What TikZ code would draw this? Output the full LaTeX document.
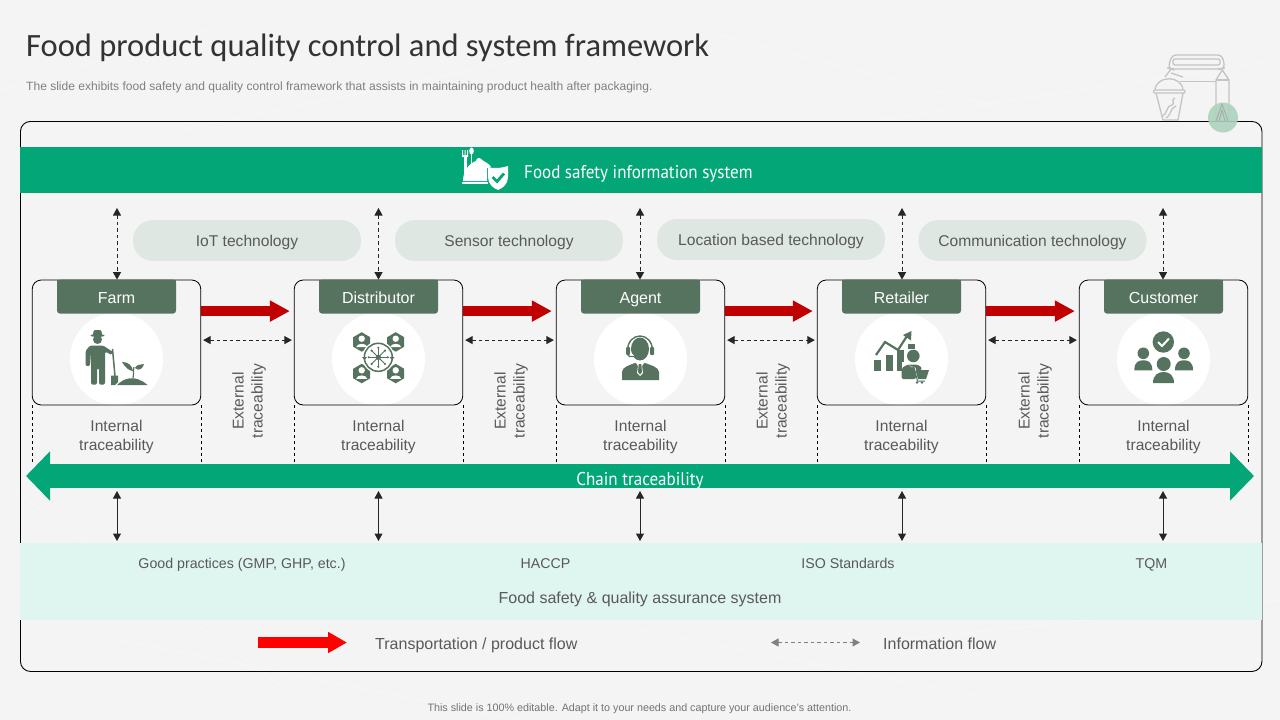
\documentclass[tikz,border=0pt]{standalone}
\usepackage{fontspec}
\usetikzlibrary{arrows.meta,calc}
\setmainfont{Liberation Sans}
\newfontfamily\titlefont{Carlito}
\newfontfamily\barfont[FakeStretch=0.92]{PT Sans}
\definecolor{paper}{HTML}{F4F4F4}
\definecolor{greenbar}{HTML}{03A676}
\definecolor{tabgreen}{HTML}{56735F}
\definecolor{pill}{HTML}{DFE7E3}
\definecolor{mint}{HTML}{DFF5EF}
\definecolor{txt}{HTML}{595959}
\definecolor{darkred}{HTML}{C00000}
\definecolor{linegrey}{HTML}{C4C4C4}
\definecolor{badge}{HTML}{AFD2BE}
\tikzset{
  x=1pt,y=-1pt,
  stagebox/.style={draw=black,line width=.8pt,rounded corners=9pt,minimum width=168.5pt,minimum height=125pt,inner sep=0pt},
  disc/.style={circle,fill=white,minimum size=93pt,inner sep=0pt},
  pillbox/.style={fill=pill,text=txt,rounded corners=20pt,minimum width=228pt,minimum height=41pt,inner sep=0pt,text height=14pt,text depth=3pt,font=\fontsize{15.6}{16}\selectfont},
  lab/.style={text=txt,align=center,inner sep=0pt,font=\fontsize{15.6}{19}\selectfont},
  oneline/.style={text=txt,inner sep=0pt,text height=14pt,text depth=3pt,font=\fontsize{16}{19}\selectfont},
  smlab/.style={text=txt,inner sep=0pt,text height=12pt,text depth=2pt,font=\fontsize{14.2}{16}\selectfont},
  flow/.style={draw=darkred,line width=10.5pt,-{Triangle[length=20pt,width=20pt]}},
  infoh/.style={draw=black!85,line width=1pt,dash pattern=on 3.5pt off 3pt,{Triangle[length=7.5pt,width=8pt]}-{Triangle[length=7.5pt,width=8pt]}},
  solidv/.style={draw=black!85,line width=1pt,{Triangle[length=7.5pt,width=8pt]}-{Triangle[length=7.5pt,width=8pt]}},
  guide/.style={draw=black,line width=.7pt,dash pattern=on 3pt off 3pt},
  icon/.style={fill=tabgreen,draw=none},
  pack/.style={draw=linegrey,line width=1.3pt,fill=none},
}
\begin{document}
\begin{tikzpicture}
\useasboundingbox (0,0) rectangle (1280,720);
\fill[paper] (0,0) rectangle (1280,720);
% faint paper creases
\foreach \a/\b/\c/\d in {0/90/240/20,180/130/520/60,700/30/1010/110,880/120/1280/60,0/480/300/700,120/640/520/720,640/630/1000/700,900/640/1280/600}
  \draw[white,line width=1pt,opacity=.3] (\a,\b) -- (\c,\d);

% heading
\node[anchor=west,inner sep=0pt,text=black!80,text height=22pt,text depth=7pt,font=\titlefont\fontsize{32.5}{34}\selectfont] (title) at (26,49) {Food product quality control and system framework};
\node[anchor=west,inner sep=0pt,text=black!50,text height=10pt,text depth=3pt,font=\fontsize{12.05}{14}\selectfont] (sub) at (26,87) {The slide exhibits food safety and quality control framework that assists in maintaining product health after packaging.};

% package line art
\draw[pack,rounded corners=4pt] (1168,68) -- (1172,55) -- (1222,55) -- (1225,68) -- (1221,69) -- (1171,69) -- cycle;
\draw[pack,rounded corners=2pt] (1173,59) rectangle (1220,65);
\draw[pack] (1171,69) -- (1165,77);
\draw[pack] (1180,81.5) -- (1216,81.5);
\draw[pack] (1216,80) -- (1222.3,70) -- (1229,80) -- (1229,121) -- (1216,121) -- cycle;
\draw[pack] (1216,80) -- (1229,80);
\draw[pack] (1171,73) -- (1183,77);
\draw[pack] (1155,90) .. controls (1156,75) and (1182,75) .. (1183,90);
\draw[pack,rounded corners=1pt] (1153.5,90) rectangle (1185,93);
\draw[pack] (1156,93) -- (1163,120) -- (1178,120) -- (1183,93);
\draw[pack] (1163,116) .. controls (1168,112) and (1166,106) .. (1172,105) .. controls (1176,103) and (1170,100) .. (1175,98);
\draw[pack] (1166,118) .. controls (1172,114) and (1170,108) .. (1176,106);

% frame
\node[draw=black,line width=.9pt,rounded corners=10pt,minimum width=1241.5pt,minimum height=550pt,inner sep=0pt,anchor=north west] (frame) at (20,121) {};
\fill[badge,opacity=.9] (1223,117.5) circle (15);
\draw[black!35,line width=.8pt] (1216,121) -- (1222,104) -- (1228,121);
\draw[black!35,line width=.8pt] (1219,121) -- (1222,110) -- (1225,121);

% information bar
\node[fill=greenbar,minimum width=1242pt,minimum height=46pt,inner sep=0pt,anchor=north west] (bar) at (20,147) {};
\node[anchor=west,inner sep=0pt,text=white,font=\barfont\fontsize{18.5}{20}\selectfont] (bartext) at (524,174) {Food safety information system};
% cloche icon
\fill[white] (464,156) -- (467,156) -- (467,180) -- (464,180) -- cycle;
\fill[white] (462,150) -- (463,150) -- (463,155) -- (464.5,155) -- (464.5,150) -- (465.5,150) -- (465.5,155) -- (467,155) -- (467,150) -- (468,150) -- (468,157) -- (462,157) -- cycle;
\fill[white] (471.5,151) ellipse (2.3 and 3.5);
\fill[white] (470.7,154) rectangle (472.3,172);
\fill[white] (463,181) .. controls (463,170) and (470,163) .. (476,161) .. controls (476,158) and (480,157) .. (481,159) .. controls (484,162) and (489,163) .. (491,167) -- (487,168) -- (487,181) -- cycle;
\fill[white] (462,182) rectangle (488,184);
\fill[white] (488,167) .. controls (494,169) and (502,168) .. (508,166) -- (508,177) .. controls (508,184) and (503,188) .. (498,190) .. controls (493,188) and (488,184) .. (488,177) -- cycle;
\draw[greenbar,line width=2.8pt] (492.5,177) -- (497,181.5) -- (504,173.5);

% technology pills
\node[pillbox] (iot) at (247,240.5) {IoT technology};
\node[pillbox] (sensor) at (509,240.5) {Sensor technology};
\node[pillbox] (location) at (771,239.5) {Location based technology};
\node[pillbox] (comm) at (1032.5,240.5) {Communication technology};

% stage boxes
\foreach \n/\cx/\t in {farm/116.5/Farm,dist/378.5/Distributor,agent/640.5/Agent,ret/901.5/Retailer,cust/1163.5/Customer}{
  \node[disc] (\n disc) at (\cx,359) {};
  \node[stagebox] (\n) at (\cx,342.5) {};
  \fill[tabgreen,rounded corners=3pt] ($(\n.north)+(-59.5,0)$) rectangle ($(\n.north)+(59.5,34)$);
  \fill[tabgreen] ($(\n.north)+(-59.5,0)$) rectangle ($(\n.north)+(59.5,8)$);
  \node[text=white,inner sep=0pt,anchor=base,font=\fontsize{16}{16}\selectfont] (\n tab) at ($(\n.north)+(0,23.5)$) {\t};
}

% farmer
\fill[icon] (97.5,335.5) ellipse (7 and 1.4);
\fill[icon,rounded corners=1.5pt] (93,336) -- (93.5,330) -- (101.5,330) -- (102,336) -- cycle;
\fill[icon] (97.5,339.5) circle (4.5);
\fill[icon,rounded corners=1.5pt] (90,345.5) -- (103,345.5) -- (113,352) -- (112,355) -- (105,351.5) -- (105,384.5) -- (99,384.5) -- (99,368) -- (97,368) -- (97,384.5) -- (91,384.5) -- (91,352) -- (90,366) -- (85.5,366) -- (85.5,351) -- cycle;
\draw[tabgreen,line width=1.5pt] (112.5,349) -- (115,376);
\fill[icon] (111,375.5) -- (118,375.5) -- (118,382) -- (115,385) -- (111,385) -- cycle;
\fill[icon] (117,385) .. controls (124,378) and (135,374) .. (147.5,385) -- cycle;
\draw[tabgreen,line width=1.2pt] (133,378) .. controls (134,374) and (133,370) .. (134,367);
\fill[icon] (133,371) .. controls (129,371) and (125,367) .. (122,362) .. controls (128,362) and (132,365) .. (133,371) -- cycle;
\fill[icon] (135,368) .. controls (137,364) and (140,365) .. (144,364) .. controls (143,368) and (139,372) .. (135,368) -- cycle;

% distributor network
\foreach \hx/\hy in {361.7/341.7,395.7/341.7,361.7/373.3,395.7/373.3}{
  \fill[icon] (\hx,\hy-9.5) -- ++(8.5,5) -- ++(0,9.5) -- ++(-8.5,5) -- ++(-8.5,-5) -- ++(0,-9.5) -- cycle;
  \fill[white] (\hx,\hy-3) circle (3.2);
  \fill[white] (\hx-5.5,\hy+5.5) .. controls (\hx-5,\hy+1) and (\hx+5,\hy+1) .. (\hx+5.5,\hy+5.5) -- cycle;
}
\fill[white] (378.3,357.3) circle (16);
\draw[tabgreen,line width=1.5pt] (378.3,357.3) circle (14);
\fill[icon] (378.3,357.3) circle (2.7);
\foreach \ang in {0,45,...,315}{
  \draw[tabgreen,line width=.9pt] (378.3,357.3) -- ++(\ang:9.5);
  \fill[icon] (378.3,357.3) ++(\ang:9.5) circle (1.2);
}
\foreach \ax/\ay in {364.5/357,392/357}
  \fill[icon] (\ax-2.5,\ay) -- (\ax+2.5,\ay) -- (\ax,\ay+3) -- cycle;

% agent
\fill[icon] (640,349) ellipse (9 and 11.5);
\fill[icon] (622,380) -- (622,372) .. controls (622,367) and (630,365) .. (635,363) -- (645,363) .. controls (650,365) and (659,367) .. (659,372) -- (659,380) -- cycle;
\fill[white] (635,361.5) -- (645,361.5) -- (642,366) -- (643,373) -- (640,376) -- (637,373) -- (638,366) -- cycle;
\fill[icon] (638.7,364) -- (641.3,364) -- (642,372) -- (640,374.5) -- (638,372) -- cycle;
\draw[tabgreen,line width=1.4pt] (627.5,351) .. controls (627.5,331) and (652.5,331) .. (652.5,351);
\fill[icon,rounded corners=1pt] (626,347) rectangle (630,355);
\fill[icon,rounded corners=1pt] (650,347) rectangle (654,355);
\draw[white,line width=1.6pt] (630.5,353) -- (634,357);
\draw[tabgreen,line width=1.2pt] (628,355) .. controls (629,358) and (634,356) .. (640,355.7);

% retailer
\fill[icon] (874,360) rectangle (880.7,371);
\fill[icon] (886,355) rectangle (892.7,371);
\fill[icon] (897,350) rectangle (904,371);
\draw[tabgreen,line width=2.2pt] (876,355) -- (885,342) -- (898,350) -- (907,336);
\fill[icon] (903,335) -- (911.5,331) -- (911,340.5) -- cycle;
\fill[white] (902,362) rectangle (925,385);
\fill[icon] (907.7,344) rectangle (915,349);
\fill[icon] (913.3,356) circle (6.3);
\fill[icon,rounded corners=2pt] (901.5,379) -- (901.5,372) .. controls (902,366) and (908,364.5) .. (913,364.5) .. controls (917,364.5) and (921,366) .. (922,370) -- (916,370) -- (916,379) -- cycle;
\draw[white,line width=1pt] (909,366) -- (915,368) -- (918,379) -- (927,379);
\fill[icon] (915.5,370) -- (929,370) -- (926,379) -- (918,379) -- cycle;
\draw[tabgreen,line width=1pt] (908.5,366.5) -- (914,367.5) -- (917.5,381) -- (925,381);
\fill[icon] (917,382.5) circle (1.4) (922,382.5) circle (1.4);

% customer
\fill[icon] (1163.3,342) circle (10.7);
\draw[white,line width=2pt] (1158,342) -- (1162,346) -- (1169,338.5);
\foreach \px/\py in {1143.3/353.3,1184/353.3}{
  \fill[icon] (\px,\py) circle (5.8);
  \fill[icon] (\px-9,\py+17) .. controls (\px-9,\py+8) and (\px-4,\py+7) .. (\px,\py+7) .. controls (\px+4,\py+7) and (\px+9,\py+8) .. (\px+9,\py+17) -- cycle;
}
\fill[icon] (1163.7,364) circle (7);
\fill[icon] (1153,383) .. controls (1153,375) and (1158,372) .. (1163.7,372) .. controls (1169,372) and (1174,375) .. (1174,383) -- cycle;

% information arrows up to the bar
\foreach \n/\cx/\k in {farm/117/1,dist/378.5/2,agent/640/3,ret/902/4,cust/1163/5}{
  \coordinate (top\k) at (\cx,208);
  \draw[infoh] (top\k) -- (top\k |- \n.north);
}

% flows between stages
\foreach \a/\b in {farm/dist,dist/agent,agent/ret,ret/cust}{
  \draw[flow,shorten >=4pt] ([yshift=-31.5pt]\a.north east) -- ([yshift=-31.5pt]\b.north west);
  \draw[infoh,shorten <=2pt,shorten >=2pt] ([yshift=-60.5pt]\a.north east) -- ([yshift=-60.5pt]\b.north west);
}

% traceability labels and guides
\foreach \n/\cx/\k in {farm/116.5/1,dist/378.5/2,agent/640.5/3,ret/901.5/4,cust/1163.5/5}{
  \node[lab] (int\k) at (\cx,436.5) {Internal\\traceability};
  \coordinate (gl\k) at (\n.south west |- 0,464);
  \coordinate (gr\k) at (\n.south east |- 0,464);
  \draw[guide] (\n.south west) -- (gl\k);
  \draw[guide] (\n.south east) -- (gr\k);
}
\foreach \cx/\k in {249/1,511/2,773/3,1035/4}
  \node[lab,rotate=90] (ext\k) at (\cx,401) {External\\traceability};

% chain traceability
\coordinate (chainL) at (26,476);
\coordinate (chainR) at (1254,476);
\draw[greenbar,line width=24pt,{Triangle[length=24pt,width=48pt]}-{Triangle[length=24pt,width=48pt]}] (chainL) -- (chainR);
\node[text=white,inner sep=0pt,font=\barfont\fontsize{18.5}{20}\selectfont] (chain) at (640,480.5) {Chain traceability};

% assurance band
\node[fill=mint,minimum width=1242pt,minimum height=77pt,inner sep=0pt,anchor=north west] (band) at (20,543) {};
\foreach \cx/\k in {117/1,378.5/2,640/3,902/4,1163/5}{
  \coordinate (sa\k) at (\cx,491);
  \coordinate (sb\k) at (\cx,541);
  \draw[solidv] (sa\k) -- (sb\k);
}
\node[smlab] (gp) at (242,563) {Good practices (GMP, GHP, etc.)};
\node[smlab] (haccp) at (545.5,563) {HACCP};
\node[smlab] (iso) at (848,563) {ISO Standards};
\node[smlab] (tqm) at (1151.5,563) {TQM};
\node[oneline] (qa) at (640,598) {Food safety \& quality assurance system};

% legend
\coordinate (lr1) at (258,642.5);
\coordinate (lr2) at (347,642.5);
\draw[draw=red,line width=11pt,-{Triangle[length=19pt,width=20pt]}] (lr1) -- (lr2);
\node[oneline,anchor=west] (ltrans) at (375,643.5) {Transportation / product flow};
\coordinate (li1) at (771,642.5);
\coordinate (li2) at (860,642.5);
\draw[draw=black!50,line width=1pt,dash pattern=on 3.5pt off 3pt,{Triangle[length=7.5pt,width=8pt]}-{Triangle[length=7.5pt,width=8pt]}] (li1) -- (li2);
\node[oneline,anchor=west] (linfo) at (883,643.5) {Information flow};

% footer
\node[inner sep=0pt,text=black!55,text height=9pt,text depth=2pt,font=\fontsize{10.75}{13}\selectfont] (foot) at (639.5,708) {This slide is 100\% editable. Adapt it to your needs and capture your audience's attention.};
\end{tikzpicture}
\end{document}
